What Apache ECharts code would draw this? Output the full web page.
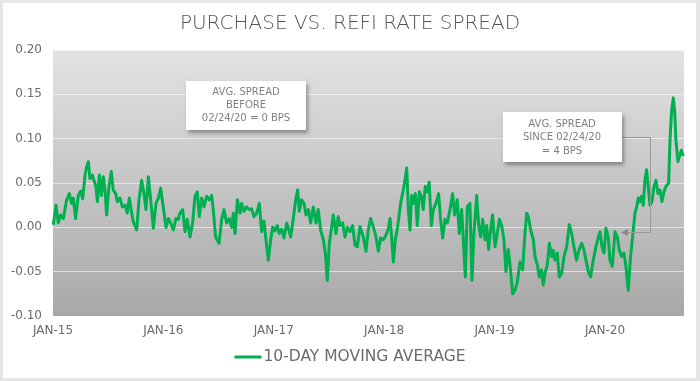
<!DOCTYPE html>
<html>
<head>
<meta charset="utf-8">
<script src="https://cdn.jsdelivr.net/npm/echarts@6/dist/echarts.min.js"></script>
<style>
html,body{margin:0;padding:0;background:#e6e6e6;}
#chart{width:700px;height:381px;}
</style>
</head>
<body>
<div id="chart"></div>
<script>
// ---- data ----
const titleText = 'PURCHASE VS. REFI RATE SPREAD';
const seriesName = '10-DAY MOVING AVERAGE';
const yTicks = [-0.10, -0.05, 0.00, 0.05, 0.10, 0.15, 0.20];
const xTickLabels = ['JAN-15', 'JAN-16', 'JAN-17', 'JAN-18', 'JAN-19', 'JAN-20'];
const xStartYear = 2015;
const xEndYear = 2020.716;
// positions along time axis, in decimal years
const datePos = [
2015.003,2015.027,2015.048,2015.069,2015.094,2015.124,2015.148,2015.169,2015.184,2015.205,
2015.229,2015.251,2015.269,2015.290,2015.305,2015.320,2015.335,2015.356,2015.371,2015.389,
2015.402,2015.420,2015.438,2015.456,2015.471,2015.486,2015.507,2015.528,2015.546,2015.568,
2015.583,2015.607,2015.628,2015.652,2015.673,2015.691,2015.713,2015.728,2015.758,2015.779,
2015.803,2015.824,2015.842,2015.864,2015.885,2015.909,2015.933,2015.954,2015.975,2015.999,
2016.024,2016.045,2016.066,2016.090,2016.114,2016.135,2016.150,2016.175,2016.196,2016.217,
2016.241,2016.265,2016.286,2016.307,2016.325,2016.347,2016.368,
2016.392,2016.416,2016.437,2016.452,2016.473,2016.504,2016.528,2016.549,2016.573,2016.597,
2016.618,2016.633,2016.649,2016.670,2016.694,2016.709,2016.730,2016.754,2016.778,2016.799,
2016.821,2016.845,2016.869,2016.890,2016.911,2016.929,2016.950,2016.972,2016.990,2017.011,
2017.032,2017.050,2017.071,2017.092,2017.117,2017.132,2017.153,2017.177,2017.198,2017.216,
2017.231,2017.252,2017.274,2017.292,2017.313,2017.334,2017.358,2017.382,2017.403,2017.424,
2017.449,2017.467,2017.485,2017.503,2017.524,2017.539,2017.563,2017.584,2017.600,2017.624,
2017.645,2017.666,2017.690,2017.714,2017.736,2017.757,2017.781,
2017.811,2017.835,2017.856,2017.877,2017.902,2017.923,2017.947,2017.968,2017.992,2018.016,
2018.037,2018.053,2018.068,2018.083,2018.101,2018.119,2018.137,2018.149,2018.173,2018.188,
2018.204,2018.219,2018.234,2018.249,2018.264,2018.282,2018.300,2018.318,2018.336,2018.354,
2018.372,2018.390,2018.408,2018.427,2018.445,2018.469,2018.493,2018.511,2018.530,2018.551,
2018.572,2018.596,2018.620,2018.638,2018.662,2018.680,2018.702,2018.717,2018.735,2018.753,
2018.777,2018.795,2018.813,2018.838,2018.856,2018.874,2018.892,2018.913,2018.928,2018.946,
2018.964,2018.982,2019.004,2019.025,2019.043,2019.064,2019.085,2019.103,2019.124,2019.139,
2019.164,2019.185,2019.206,2019.230,
2019.254,2019.275,2019.291,2019.306,2019.327,2019.351,2019.366,2019.387,2019.405,2019.426,
2019.441,2019.457,2019.478,2019.496,2019.517,2019.532,2019.547,2019.568,2019.586,2019.608,
2019.629,2019.653,2019.677,2019.698,2019.719,2019.743,2019.764,2019.789,2019.810,2019.828,
2019.849,2019.870,2019.894,2019.918,2019.940,2019.955,2019.973,2019.991,2020.009,2020.030,
2020.045,2020.066,2020.091,2020.112,2020.130,2020.151,2020.172,2020.190,2020.211,2020.232,
2020.250,2020.272,2020.287,2020.302,2020.317,2020.332,2020.347,2020.362,2020.377,2020.392,
2020.408,2020.426,2020.444,2020.462,2020.480,2020.498,2020.516,2020.534,2020.552,2020.577,
2020.589,2020.604,2020.619,2020.631,2020.643,2020.661,2020.679,2020.692,2020.704,2020.716
];
const spread = [
0.003,0.025,0.005,0.014,0.010,0.031,0.038,0.027,0.033,0.010,
0.036,0.041,0.032,0.059,0.068,0.074,0.055,0.059,0.053,0.046,
0.029,0.059,0.036,0.057,0.042,0.014,0.046,0.063,0.042,0.038,
0.029,0.033,0.023,0.025,0.016,0.033,0.016,0.006,-0.003,0.031,
0.053,0.038,0.020,0.057,0.031,-0.001,0.027,0.033,0.044,0.023,
0.000,0.010,0.005,-0.003,0.010,0.009,0.016,0.020,-0.005,0.009,
-0.011,0.005,0.035,0.040,0.012,0.033,0.023,
0.035,0.031,0.036,0.020,-0.011,-0.018,0.009,0.020,0.005,0.010,
0.000,0.016,-0.007,0.031,0.016,0.027,0.018,0.023,0.020,0.021,
0.012,0.016,0.027,-0.005,0.007,-0.014,-0.037,-0.014,0.000,-0.004,
0.002,-0.007,-0.002,-0.012,0.005,-0.001,-0.011,0.010,0.031,0.042,
0.018,0.031,0.027,0.014,0.020,0.005,0.023,0.005,0.020,-0.003,
-0.014,-0.029,-0.060,-0.018,0.000,0.014,-0.007,0.012,0.002,0.005,
-0.011,0.000,-0.005,0.002,-0.020,-0.022,0.001,
-0.011,-0.027,-0.003,0.010,0.000,-0.009,-0.027,-0.012,-0.014,-0.009,
-0.002,0.010,-0.012,-0.039,-0.014,-0.002,0.000,0.027,0.042,0.053,
0.067,0.020,-0.003,0.036,0.027,0.038,0.002,0.040,0.035,0.020,
0.046,0.040,0.051,0.002,0.020,0.027,0.038,0.009,-0.012,0.009,
0.005,0.020,0.038,0.014,0.031,-0.007,0.020,-0.014,-0.056,0.023,
0.027,-0.060,-0.007,0.036,0.002,-0.011,0.009,-0.014,0.002,-0.025,
-0.003,0.014,-0.022,-0.007,0.009,0.002,-0.014,-0.050,-0.025,-0.041,
-0.075,-0.071,-0.062,-0.039,
-0.048,-0.007,0.016,0.012,-0.003,-0.014,-0.033,-0.042,-0.056,-0.048,
-0.065,-0.052,-0.042,-0.018,-0.033,-0.026,-0.037,-0.029,-0.056,-0.052,
-0.033,-0.022,0.003,-0.007,-0.022,-0.037,-0.026,-0.018,-0.026,-0.037,
-0.050,-0.056,-0.037,-0.022,-0.011,-0.005,-0.022,-0.029,-0.001,-0.011,
-0.037,-0.044,-0.005,-0.011,-0.026,-0.033,-0.029,-0.044,-0.071,-0.033,
-0.011,0.016,0.023,0.033,0.029,0.035,0.025,0.053,0.065,0.046,
0.025,0.029,0.046,0.053,0.038,0.042,0.029,0.040,0.046,0.050,
0.098,0.132,0.146,0.132,0.098,0.074,0.082,0.087,0.082,0.083
];
const noteBefore = ['AVG. SPREAD', 'BEFORE', '02/24/20 = 0 BPS'];
const noteSince = ['AVG. SPREAD', 'SINCE 02/24/20', '= 4 BPS'];

// ---- chart ----
const chart = echarts.init(document.getElementById('chart'), null, {renderer: 'canvas'});
const FONT = '"DejaVu Sans", Lato, sans-serif';
const TITLE_FONT = '"DejaVu Sans ExtraLight", "DejaVu Sans Light", "DejaVu Sans", sans-serif';
const TXT = '#6b6b6b';

function noteText(lines, cx, y0, lh) {
  return lines.map((s, i) => ({
    type: 'text', z: 101,
    style: {text: s, x: cx, y: y0 + i * lh, align: 'center', verticalAlign: 'middle',
      fill: '#808080', font: '10px ' + FONT}
  }));
}

const option = {
  backgroundColor: '#e6e6e6',
  animation: false,
  title: {
    text: titleText, left: 'center', top: 9,
    textStyle: {fontFamily: TITLE_FONT, fontSize: 20, fontWeight: 200, color: '#555555'}
  },
  grid: {
    left: 53, right: 16, top: 50, bottom: 65, containLabel: false,
    show: true, borderWidth: 0,
    backgroundColor: {type: 'linear', x: 0, y: 0, x2: 0, y2: 1,
      colorStops: [{offset: 0, color: '#e3e3e3'}, {offset: 1, color: '#a8a8a8'}]}
  },
  legend: {
    data: [seriesName], bottom: 11, left: 'center',
    icon: 'rect', itemWidth: 27, itemHeight: 3, itemGap: 10,
    textStyle: {fontFamily: FONT, fontSize: 15.5, color: TXT, padding: [0, 0, 0, -3]}
  },
  xAxis: {
    type: 'value', min: xStartYear, max: xEndYear, interval: 1,
    axisLine: {show: false}, axisTick: {show: false}, splitLine: {show: false},
    axisLabel: {
      showMaxLabel: false, margin: 9,
      fontFamily: FONT, fontSize: 12, color: TXT,
      formatter: v => xTickLabels[Math.round(v - xStartYear)] || ''
    }
  },
  yAxis: {
    type: 'value', min: yTicks[0], max: yTicks[yTicks.length - 1], interval: 0.05,
    axisLine: {show: false}, axisTick: {show: false},
    splitLine: {lineStyle: {color: 'rgba(255,255,255,0.55)', width: 1}},
    axisLabel: {
      margin: 11, fontFamily: FONT, fontSize: 12, color: TXT,
      formatter: v => v.toFixed(2)
    }
  },
  series: [{
    name: seriesName, type: 'line', showSymbol: false, symbol: 'none',
    data: datePos.map((d, i) => [d, spread[i]]),
    lineStyle: {color: '#00B050', width: 3, join: 'round'},
    itemStyle: {color: '#00B050'}
  }],
  graphic: [
    {type: 'rect', z: -10, silent: true, shape: {x: 3, y: 3, width: 693, height: 375},
      style: {fill: '#ffffff'}},
    {type: 'rect', z: 100, shape: {x: 186, y: 81, width: 120, height: 49},
      style: {fill: '#ffffff', shadowBlur: 4, shadowOffsetX: 2, shadowOffsetY: 3, shadowColor: 'rgba(0,0,0,0.35)'}},
    ...noteText(noteBefore, 246, 92, 13.3),
    {type: 'rect', z: 100, shape: {x: 503, y: 112, width: 119, height: 50},
      style: {fill: '#ffffff', shadowBlur: 4, shadowOffsetX: 2, shadowOffsetY: 3, shadowColor: 'rgba(0,0,0,0.35)'}},
    ...noteText(noteSince, 562, 124.5, 13.3),
    {type: 'polyline', z: 99, shape: {points: [[622, 137.5], [650.5, 137.5], [650.5, 232.5], [628, 232.5]]},
      style: {stroke: '#9a9a9a', lineWidth: 1, fill: null}},
    {type: 'polygon', z: 99, shape: {points: [[621, 232.5], [628, 229], [628, 236]]},
      style: {fill: '#888888'}}
  ]
};
chart.setOption(option);
</script>
</body>
</html>
